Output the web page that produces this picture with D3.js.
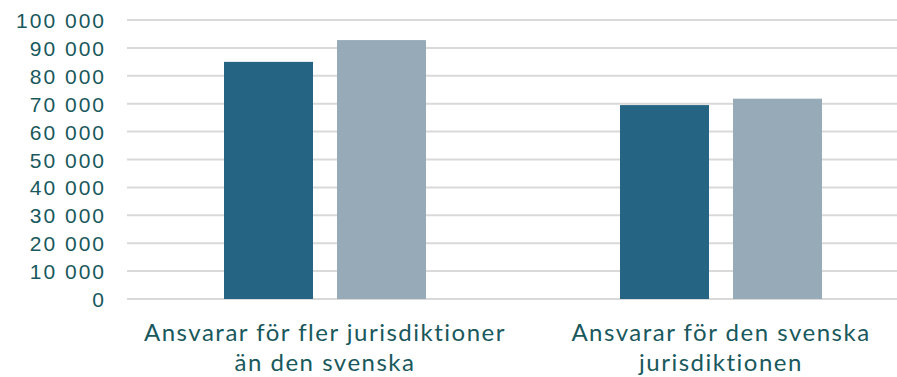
<!DOCTYPE html>
<html>
<head>
<meta charset="utf-8">
<script src="https://cdn.jsdelivr.net/npm/d3@7"></script>
<style>
  html, body { margin: 0; padding: 0; background: #fff; }
  svg { display: block; font-family: Lato, "Open Sans", sans-serif; }
</style>
</head>
<body>
<svg id="chart" width="897" height="377"></svg>
<script>
// Categories (two-line labels) and the two series
const categories = [
  ["Ansvarar för fler jurisdiktioner", "än den svenska"],
  ["Ansvarar för den svenska", "jurisdiktionen"]
];
const seriesNames = ["Serie 1", "Serie 2"];
const seriesA = [85000, 92800];
const seriesB = [69500, 71800];
const yTicks = [0, 10000, 20000, 30000, 40000, 50000, 60000, 70000, 80000, 90000, 100000];

const values = [seriesA, seriesB]; // values[category][series]
const colors = ["#256482", "#97aab8"];
const textColor = "#19585c";

const svg = d3.select("#chart");
const plotLeft = 127, plotRight = 919, plotTop = 20, plotBottom = 299;

const catKeys = categories.map((c, i) => i);
const x0 = d3.scaleBand().domain(catKeys).range([plotLeft, plotRight]).padding(0);
const groupW = 202;
const x1 = d3.scaleBand().domain(seriesNames)
  .range([(x0.bandwidth() - groupW) / 2, (x0.bandwidth() + groupW) / 2])
  .paddingInner(24 / 113).paddingOuter(0);
const y = d3.scaleLinear().domain([0, 100000]).range([plotBottom, plotTop]);

const fmt = v => d3.format(",")(v).replace(/,/g, " ");

// Gridlines
svg.append("g")
  .selectAll("line")
  .data(yTicks)
  .join("line")
  .attr("x1", plotLeft).attr("x2", plotRight)
  .attr("y1", d => y(d)).attr("y2", d => y(d))
  .attr("stroke", "#d9d9d9")
  .attr("stroke-width", 2);

// Y axis labels
const yAxis = svg.append("g")
  .attr("transform", `translate(${plotLeft - 21},0)`)
  .call(d3.axisLeft(y).tickValues(yTicks).tickFormat(fmt).tickSize(0).tickPadding(0));
yAxis.select(".domain").remove();
yAxis.selectAll("text")
  .attr("fill", textColor)
  .attr("font-size", 21)
  .attr("letter-spacing", 2)
  .attr("dy", "0.36em");

// Bars
const groups = svg.append("g")
  .selectAll("g")
  .data(catKeys)
  .join("g")
  .attr("transform", d => `translate(${x0(d)},0)`);

groups.selectAll("rect")
  .data(c => seriesNames.map((s, i) => ({ s, i, v: values[c][i] })))
  .join("rect")
  .attr("x", d => x1(d.s))
  .attr("width", x1.bandwidth())
  .attr("y", d => y(d.v))
  .attr("height", d => y(0) - y(d.v))
  .attr("fill", d => colors[d.i]);

// Category labels
const labels = svg.append("g")
  .selectAll("text")
  .data(catKeys)
  .join("text")
  .attr("x", d => x0(d) + x0.bandwidth() / 2)
  .attr("y", 341)
  .attr("text-anchor", "middle")
  .attr("fill", textColor)
  .attr("font-size", 24)
  .attr("letter-spacing", 1.5);
labels.selectAll("tspan")
  .data(d => categories[d])
  .join("tspan")
  .attr("x", function() { return d3.select(this.parentNode).attr("x"); })
  .attr("dy", (d, i) => i === 0 ? 0 : 30)
  .text(d => d);
</script>
</body>
</html>
